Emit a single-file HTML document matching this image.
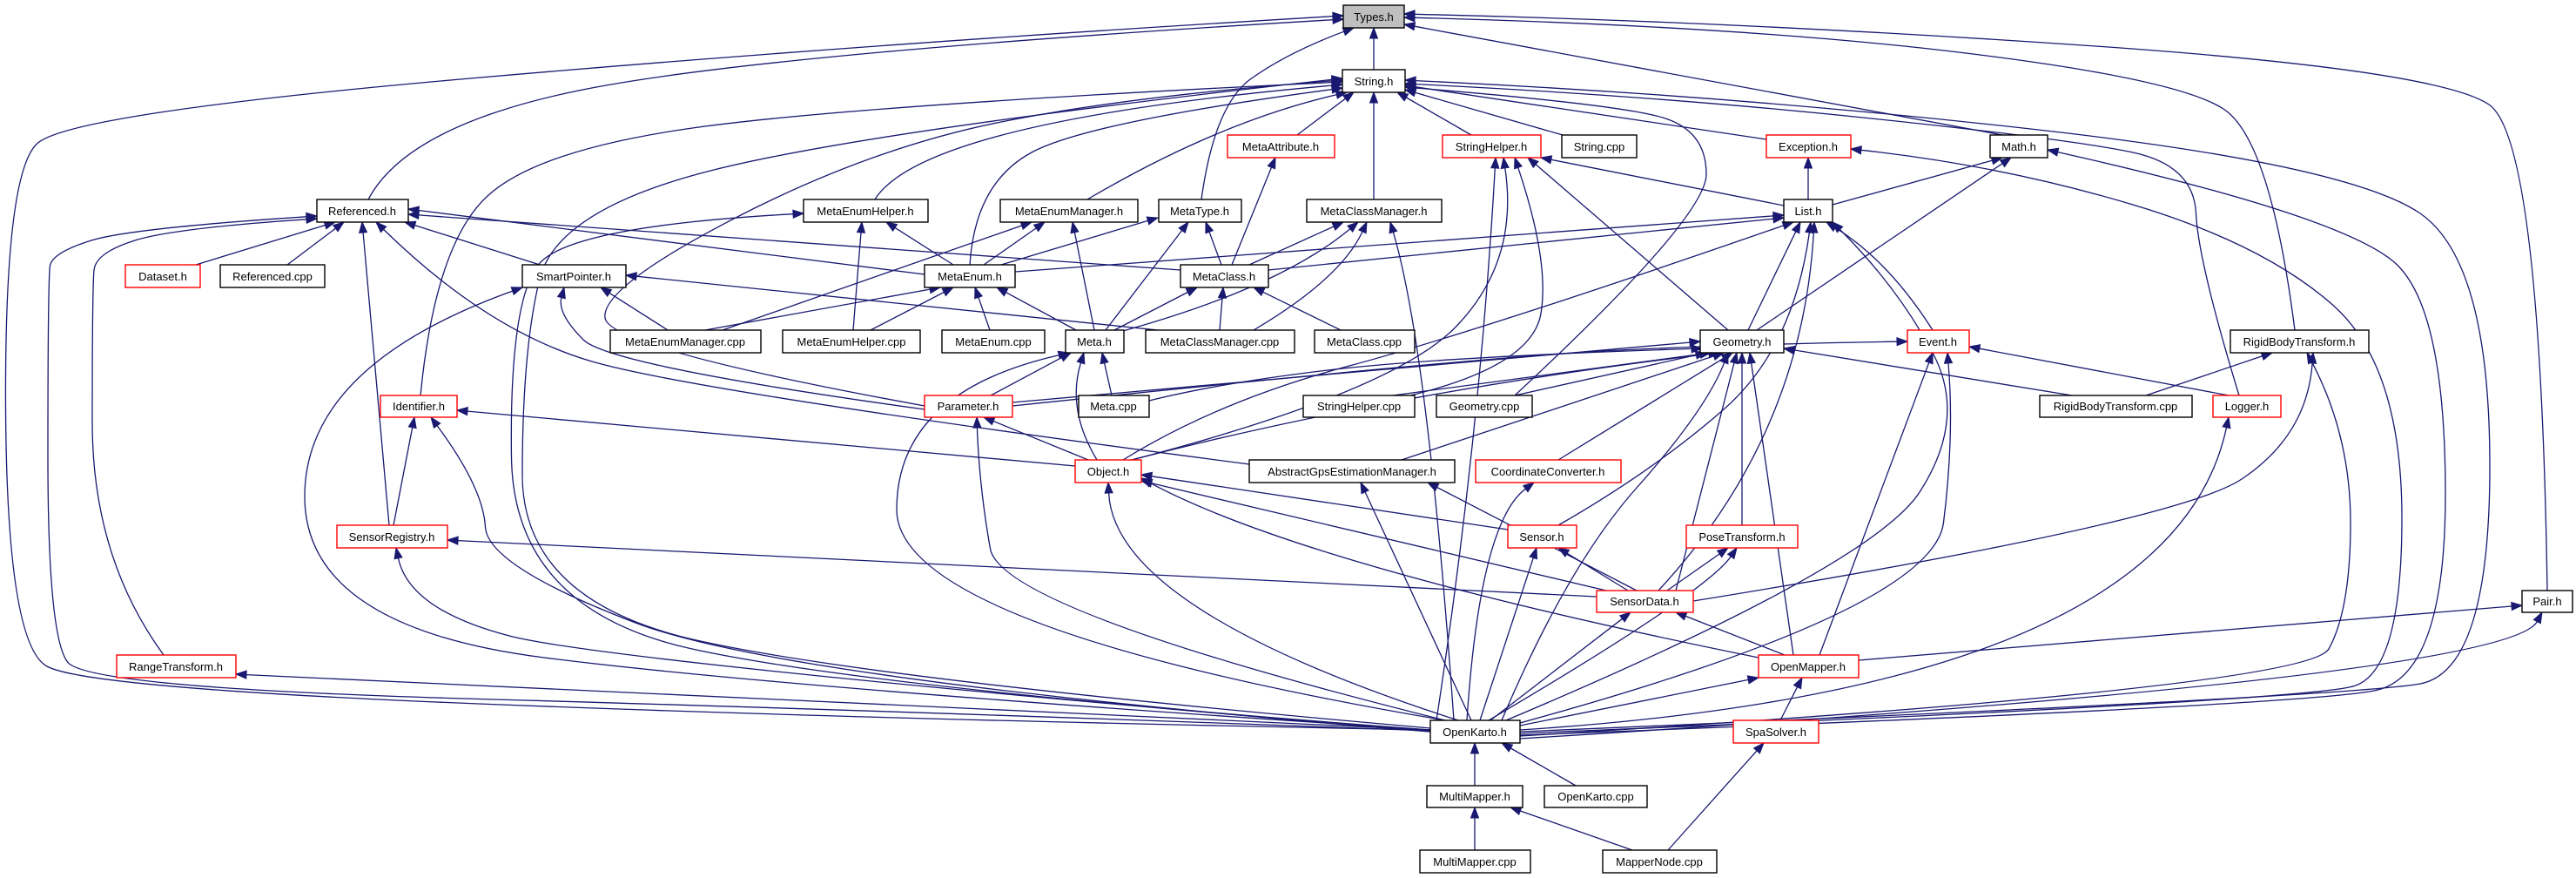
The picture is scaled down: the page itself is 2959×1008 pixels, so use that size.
<!DOCTYPE html>
<html><head><meta charset="utf-8">
<style>
html,body{margin:0;padding:0;background:#fff;}
svg{display:block;}
text{font-family:"Liberation Sans",sans-serif;font-size:13px;fill:#000;}
</style></head>
<body>
<svg id="s" width="2959" height="1008" viewBox="0 0 2959 1008" xmlns="http://www.w3.org/2000/svg">
<rect width="2959" height="1008" fill="#fff"/>
<g id="edges" fill="none" stroke="#191970" stroke-width="1.3"></g>
<g id="heads" fill="#191970" stroke="#191970" stroke-width="1"></g>
<g id="nodes" stroke-width="1.4">
<rect x="1543" y="6" width="70" height="26" fill="#bfbfbf" stroke="#000"/><text x="1578" y="24" text-anchor="middle">Types.h</text>
<rect x="1542" y="80" width="72" height="26" fill="#fff" stroke="#000"/><text x="1578" y="98" text-anchor="middle">String.h</text>
<rect x="1410" y="155" width="123" height="26" fill="#fff" stroke="#f00"/><text x="1471" y="173" text-anchor="middle">MetaAttribute.h</text>
<rect x="1657" y="155" width="113" height="26" fill="#fff" stroke="#f00"/><text x="1713" y="173" text-anchor="middle">StringHelper.h</text>
<rect x="1794" y="155" width="86" height="26" fill="#fff" stroke="#000"/><text x="1837" y="173" text-anchor="middle">String.cpp</text>
<rect x="2029" y="155" width="97" height="26" fill="#fff" stroke="#f00"/><text x="2077" y="173" text-anchor="middle">Exception.h</text>
<rect x="2286" y="155" width="66" height="26" fill="#fff" stroke="#000"/><text x="2319" y="173" text-anchor="middle">Math.h</text>
<rect x="364" y="229" width="105" height="26" fill="#fff" stroke="#000"/><text x="416" y="247" text-anchor="middle">Referenced.h</text>
<rect x="923" y="229" width="143" height="26" fill="#fff" stroke="#000"/><text x="994" y="247" text-anchor="middle">MetaEnumHelper.h</text>
<rect x="1149" y="229" width="158" height="26" fill="#fff" stroke="#000"/><text x="1228" y="247" text-anchor="middle">MetaEnumManager.h</text>
<rect x="1331" y="229" width="95" height="26" fill="#fff" stroke="#000"/><text x="1378" y="247" text-anchor="middle">MetaType.h</text>
<rect x="1501" y="229" width="155" height="26" fill="#fff" stroke="#000"/><text x="1578" y="247" text-anchor="middle">MetaClassManager.h</text>
<rect x="2049" y="229" width="56" height="26" fill="#fff" stroke="#000"/><text x="2077" y="247" text-anchor="middle">List.h</text>
<rect x="144" y="304" width="86" height="26" fill="#fff" stroke="#f00"/><text x="187" y="322" text-anchor="middle">Dataset.h</text>
<rect x="253" y="304" width="120" height="26" fill="#fff" stroke="#000"/><text x="313" y="322" text-anchor="middle">Referenced.cpp</text>
<rect x="600" y="304" width="119" height="26" fill="#fff" stroke="#000"/><text x="659" y="322" text-anchor="middle">SmartPointer.h</text>
<rect x="1062" y="304" width="104" height="26" fill="#fff" stroke="#000"/><text x="1114" y="322" text-anchor="middle">MetaEnum.h</text>
<rect x="1356" y="304" width="101" height="26" fill="#fff" stroke="#000"/><text x="1406" y="322" text-anchor="middle">MetaClass.h</text>
<rect x="701" y="379" width="173" height="26" fill="#fff" stroke="#000"/><text x="787" y="397" text-anchor="middle">MetaEnumManager.cpp</text>
<rect x="899" y="379" width="158" height="26" fill="#fff" stroke="#000"/><text x="978" y="397" text-anchor="middle">MetaEnumHelper.cpp</text>
<rect x="1082" y="379" width="118" height="26" fill="#fff" stroke="#000"/><text x="1141" y="397" text-anchor="middle">MetaEnum.cpp</text>
<rect x="1224" y="379" width="67" height="26" fill="#fff" stroke="#000"/><text x="1257" y="397" text-anchor="middle">Meta.h</text>
<rect x="1316" y="379" width="171" height="26" fill="#fff" stroke="#000"/><text x="1401" y="397" text-anchor="middle">MetaClassManager.cpp</text>
<rect x="1510" y="379" width="115" height="26" fill="#fff" stroke="#000"/><text x="1567" y="397" text-anchor="middle">MetaClass.cpp</text>
<rect x="1953" y="379" width="96" height="26" fill="#fff" stroke="#000"/><text x="2001" y="397" text-anchor="middle">Geometry.h</text>
<rect x="2191" y="379" width="71" height="26" fill="#fff" stroke="#f00"/><text x="2226" y="397" text-anchor="middle">Event.h</text>
<rect x="2562" y="379" width="159" height="26" fill="#fff" stroke="#000"/><text x="2641" y="397" text-anchor="middle">RigidBodyTransform.h</text>
<rect x="437" y="454" width="88" height="25" fill="#fff" stroke="#f00"/><text x="481" y="471" text-anchor="middle">Identifier.h</text>
<rect x="1062" y="454" width="101" height="25" fill="#fff" stroke="#f00"/><text x="1112" y="471" text-anchor="middle">Parameter.h</text>
<rect x="1239" y="454" width="81" height="25" fill="#fff" stroke="#000"/><text x="1279" y="471" text-anchor="middle">Meta.cpp</text>
<rect x="1497" y="454" width="128" height="25" fill="#fff" stroke="#000"/><text x="1561" y="471" text-anchor="middle">StringHelper.cpp</text>
<rect x="1650" y="454" width="110" height="25" fill="#fff" stroke="#000"/><text x="1705" y="471" text-anchor="middle">Geometry.cpp</text>
<rect x="2343" y="454" width="175" height="25" fill="#fff" stroke="#000"/><text x="2430" y="471" text-anchor="middle">RigidBodyTransform.cpp</text>
<rect x="2542" y="454" width="78" height="25" fill="#fff" stroke="#f00"/><text x="2581" y="471" text-anchor="middle">Logger.h</text>
<rect x="1235" y="528" width="76" height="26" fill="#fff" stroke="#f00"/><text x="1273" y="546" text-anchor="middle">Object.h</text>
<rect x="1435" y="528" width="236" height="26" fill="#fff" stroke="#000"/><text x="1553" y="546" text-anchor="middle">AbstractGpsEstimationManager.h</text>
<rect x="1695" y="528" width="167" height="26" fill="#fff" stroke="#f00"/><text x="1778" y="546" text-anchor="middle">CoordinateConverter.h</text>
<rect x="387" y="603" width="127" height="26" fill="#fff" stroke="#f00"/><text x="450" y="621" text-anchor="middle">SensorRegistry.h</text>
<rect x="1732" y="603" width="79" height="26" fill="#fff" stroke="#f00"/><text x="1771" y="621" text-anchor="middle">Sensor.h</text>
<rect x="1937" y="603" width="128" height="26" fill="#fff" stroke="#f00"/><text x="2001" y="621" text-anchor="middle">PoseTransform.h</text>
<rect x="1834" y="678" width="111" height="25" fill="#fff" stroke="#f00"/><text x="1889" y="695" text-anchor="middle">SensorData.h</text>
<rect x="2897" y="678" width="58" height="25" fill="#fff" stroke="#000"/><text x="2926" y="695" text-anchor="middle">Pair.h</text>
<rect x="134" y="752" width="137" height="26" fill="#fff" stroke="#f00"/><text x="202" y="770" text-anchor="middle">RangeTransform.h</text>
<rect x="2020" y="752" width="115" height="26" fill="#fff" stroke="#f00"/><text x="2077" y="770" text-anchor="middle">OpenMapper.h</text>
<rect x="1643" y="827" width="103" height="26" fill="#fff" stroke="#000"/><text x="1694" y="845" text-anchor="middle">OpenKarto.h</text>
<rect x="1991" y="827" width="98" height="26" fill="#fff" stroke="#f00"/><text x="2040" y="845" text-anchor="middle">SpaSolver.h</text>
<rect x="1639" y="902" width="110" height="25" fill="#fff" stroke="#000"/><text x="1694" y="919" text-anchor="middle">MultiMapper.h</text>
<rect x="1774" y="902" width="118" height="25" fill="#fff" stroke="#000"/><text x="1833" y="919" text-anchor="middle">OpenKarto.cpp</text>
<rect x="1631" y="976" width="127" height="26" fill="#fff" stroke="#000"/><text x="1694" y="994" text-anchor="middle">MultiMapper.cpp</text>
<rect x="1841" y="976" width="131" height="26" fill="#fff" stroke="#000"/><text x="1906" y="994" text-anchor="middle">MapperNode.cpp</text>
</g>
</svg>
<script>
var E=[
[[1578,80],[],[1578,32]],
[[423,229],[[470,140],[900,60]],[1543,22]],
[[1643,838],[[1000,826],[100,790],[8,740],[5,200],[80,130],[1000,50]],[1543,18]],
[[1380,229],[[1395,120],[1480,60]],[1555,32]],
[[2300,155],[],[1613,28]],
[[2636,379],[[2608,160],[2500,90],[2000,30]],[1613,20]],
[[2926,678],[[2918,160],[2800,80],[2000,25]],[1613,16]],
[[1490,155],[],[1555,106]],
[[1690,155],[],[1605,106]],
[[1795,155],[],[1614,103]],
[[1578,229],[],[1578,106]],
[[2029,160],[],[1614,98]],
[[1249,229],[[1400,140]],[1547,106]],
[[1114,304],[[1120,210],[1250,140]],[1542,101]],
[[1005,229],[[1060,140]],[1542,97]],
[[483,454],[[500,280],[620,170],[1000,120]],[1542,94]],
[[1062,466],[[700,400],[690,330],[1000,170],[1300,110]],[1542,92]],
[[1643,836],[[1000,780],[600,690],[600,400],[640,240],[1000,150]],[1542,90]],
[[1740,454],[[1960,250],[1960,150],[1860,120]],[1614,100]],
[[2572,454],[[2525,300],[2520,190],[2380,160],[1900,110]],[1614,96]],
[[1746,840],[[2700,800],[2860,770],[2860,300],[2700,190],[2000,110]],[1614,92]],
[[2077,229],[],[2077,181]],
[[1746,842],[[2650,805],[2759,770],[2759,420],[2600,280],[2300,190]],[2126,171]],
[[2105,235],[],[2300,181]],
[[2018,379],[],[2310,181]],
[[1746,844],[[2650,810],[2809,775],[2809,360],[2700,250]],[2352,172]],
[[1166,312],[],[2049,247]],
[[1457,310],[],[2049,250]],
[[1290,528],[[1400,460],[1700,380]],[2060,255]],
[[2008,379],[],[2068,255]],
[[2220,379],[[2170,300]],[2098,255]],
[[1790,603],[[1900,540],[2060,400]],[2080,255]],
[[1905,678],[[2070,500]],[2084,255]],
[[1730,827],[[2150,650],[2260,480],[2180,330]],[2105,255]],
[[2049,236],[],[1770,181]],
[[225,304],[],[385,255]],
[[330,304],[],[395,255]],
[[620,304],[],[465,255]],
[[447,603],[],[416,255]],
[[188,752],[[106,640],[106,330],[110,290],[200,262]],[364,251]],
[[1643,839],[[1000,815],[100,790],[55,730],[55,320],[60,290],[150,262]],[364,248]],
[[1062,315],[],[469,240]],
[[1356,310],[],[469,246]],
[[1435,533],[[800,450],[560,380]],[432,255]],
[[1095,304],[],[1018,255]],
[[980,379],[],[990,255]],
[[1643,838],[[1000,790],[590,700],[585,350],[650,260]],[923,245]],
[[1130,304],[],[1200,255]],
[[830,379],[],[1185,255]],
[[1257,379],[],[1232,255]],
[[1150,304],[],[1330,250]],
[[1270,379],[],[1365,255]],
[[1403,304],[],[1385,255]],
[[1415,304],[],[1465,181]],
[[1435,304],[],[1543,255]],
[[1290,380],[[1470,330]],[1560,255]],
[[1440,379],[[1540,320]],[1570,255]],
[[1670,827],[[1640,400]],[1597,255]],
[[767,379],[],[690,330]],
[[1062,470],[[700,420],[640,360]],[648,330]],
[[1643,838],[[900,790],[350,720],[350,420]],[600,330]],
[[1330,379],[],[719,316]],
[[810,379],[],[1080,330]],
[[1000,379],[],[1095,330]],
[[1137,379],[],[1120,330]],
[[1236,379],[],[1145,330]],
[[1280,379],[],[1375,330]],
[[1401,379],[],[1405,330]],
[[1540,379],[],[1440,330]],
[[1138,454],[],[1230,405]],
[[1277,454],[],[1266,405]],
[[1260,528],[[1225,470]],[1245,405]],
[[1660,827],[[1030,720],[1030,450]],[1228,405]],
[[1163,462],[],[1953,392]],
[[1163,466],[[1700,410],[2000,395]],[2191,392]],
[[1320,460],[[1400,440],[1650,410]],[1955,400]],
[[1740,454],[],[1960,405]],
[[1600,454],[],[1965,405]],
[[2380,454],[],[2049,400]],
[[1300,528],[[1600,450]],[1975,405]],
[[1610,528],[],[1980,405]],
[[1790,528],[],[1990,405]],
[[2001,603],[],[2001,405]],
[[1925,678],[],[1995,405]],
[[1725,827],[[1800,650],[1960,470]],[1985,405]],
[[2060,752],[],[2010,405]],
[[1985,379],[],[1755,181]],
[[1620,454],[[1760,420],[1780,300]],[1740,181]],
[[1650,827],[[1700,500]],[1718,181]],
[[1300,528],[[1600,450],[1745,300]],[1727,181]],
[[2090,752],[],[2220,405]],
[[1746,830],[[2220,700],[2245,500]],[2237,405]],
[[2560,454],[],[2262,398]],
[[2465,454],[],[2610,405]],
[[1945,690],[[2500,600],[2650,500]],[2657,405]],
[[1746,845],[[2650,790],[2700,700],[2700,500]],[2650,405]],
[[452,603],[],[476,479]],
[[1643,840],[[900,780],[560,650],[555,560]],[495,479]],
[[1235,535],[],[525,471]],
[[1250,528],[],[1130,479]],
[[1660,827],[[1150,700],[1125,560]],[1122,479]],
[[1746,838],[[2494,790]],[2560,479]],
[[1732,608],[],[1311,545]],
[[1845,678],[],[1311,552]],
[[1675,827],[[1280,700]],[1273,554]],
[[1880,678],[],[1640,554]],
[[1690,827],[],[1563,554]],
[[1685,827],[[1700,600]],[1762,554]],
[[1834,685],[],[514,620]],
[[1643,840],[[700,760],[470,700]],[455,629]],
[[1870,678],[],[1790,629]],
[[1700,827],[],[1765,629]],
[[1915,678],[],[1985,629]],
[[1710,827],[[1960,680]],[1995,629]],
[[2050,752],[],[1925,703]],
[[1712,827],[],[1873,703]],
[[2135,758],[],[2897,695]],
[[1746,848],[[2880,778]],[2920,703]],
[[1643,838],[],[271,774]],
[[1746,833],[],[2020,778]],
[[2045,827],[],[2070,778]],
[[2020,755],[[1500,650]],[1311,549]],
[[1694,902],[],[1694,853]],
[[1810,902],[],[1725,853]],
[[1916,976],[],[2026,853]],
[[1694,976],[],[1694,927]],
[[1875,976],[],[1735,927]]
];
var ge=document.getElementById('edges'),gh=document.getElementById('heads'),NS='http://www.w3.org/2000/svg';
function f(v){return v.toFixed(1);}
E.forEach(function(e){
 var P=[e[0]].concat(e[1]).concat([e[2]]);
 var n=P.length,end=P[n-1];
 var prev=n>2?P[n-2]:P[0];
 var dx=end[0]-prev[0],dy=end[1]-prev[1],L=Math.hypot(dx,dy)||1;
 var ux=dx/L,uy=dy/L,AL=12,AW=4.5;
 var base=[end[0]-ux*AL,end[1]-uy*AL];
 P[n-1]=base;
 var d='M'+P[0][0]+','+P[0][1];
 if(n==2){d+=' L'+f(base[0])+','+f(base[1]);}
 else{
  for(var i=1;i<n-1;i++){
   var m=(i<n-2)?[(P[i][0]+P[i+1][0])/2,(P[i][1]+P[i+1][1])/2]:P[n-1];
   d+=' Q'+P[i][0]+','+P[i][1]+' '+f(m[0])+','+f(m[1]);
  }
 }
 var p=document.createElementNS(NS,'path');p.setAttribute('d',d);ge.appendChild(p);
 var h=document.createElementNS(NS,'polygon');
 h.setAttribute('points',end[0]+','+end[1]+' '+f(base[0]-uy*AW)+','+f(base[1]+ux*AW)+' '+f(base[0]+uy*AW)+','+f(base[1]-ux*AW));
 gh.appendChild(h);
});
</script>
</body></html>
